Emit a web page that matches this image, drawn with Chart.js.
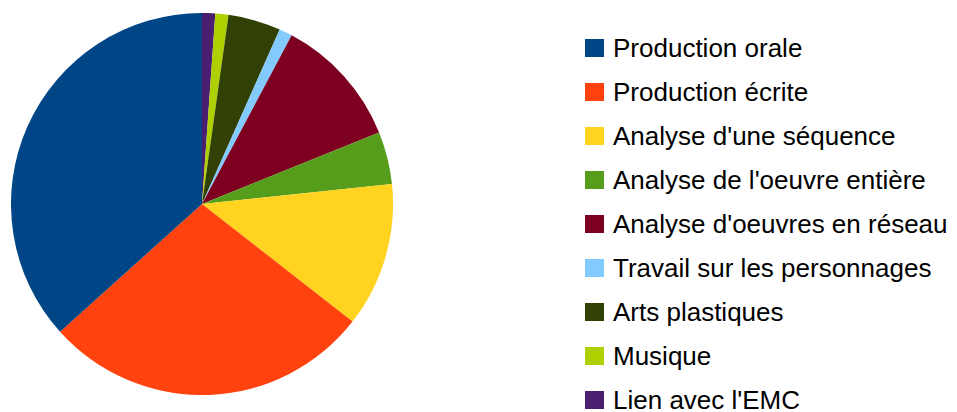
<!DOCTYPE html>
<html lang="fr">
<head>
<meta charset="utf-8">
<title>Répartition des activités</title>
<script src="https://cdn.jsdelivr.net/npm/chart.js@4/dist/chart.umd.min.js"></script>
<style>
    html, body {
        margin: 0;
        padding: 0;
        background: #ffffff;
        width: 957px;
        height: 412px;
        overflow: hidden;
        font-family: "Liberation Sans", Arial, sans-serif;
    }
    #pie-wrap {
        position: absolute;
        left: 11px;
        top: 13px;
        width: 382px;
        height: 382px;
    }
    #legend {
        position: absolute;
        left: 585px;
        top: 26px;
        margin: 0;
        padding: 0;
        list-style: none;
    }
    #legend li {
        display: flex;
        align-items: center;
        height: 44px;
        font-size: 26px;
        color: #000000;
        white-space: nowrap;
    }
    #legend .swatch {
        display: inline-block;
        width: 19px;
        height: 18px;
        margin-right: 9px;
        flex: none;
    }
</style>
</head>
<body>
<div id="pie-wrap"><canvas id="pieChart"></canvas></div>
<ul id="legend"></ul>
<script>
// categories, in legend order
const categories = [
    'Production orale',
    'Production écrite',
    "Analyse d'une séquence",
    "Analyse de l'oeuvre entière",
    "Analyse d'oeuvres en réseau",
    'Travail sur les personnages',
    'Arts plastiques',
    'Musique',
    "Lien avec l'EMC"
];

// number of occurrences per category
const counts = [33, 25, 11, 4, 10, 1, 4, 1, 1];

const sliceColors = [
    '#004586', '#ff420e', '#ffd320', '#579d1c', '#7e0021',
    '#83caff', '#314004', '#aecf00', '#4b1f6f'
];

const PieChart = {
    chart: null,

    init() {
        this.renderLegend();
        this.renderPie();
    },

    renderLegend() {
        const list = document.getElementById('legend');
        categories.forEach((cat, i) => {
            const row = document.createElement('li');
            row.innerHTML = `<span class="swatch" style="background-color: ${sliceColors[i]}"></span><span>${cat}</span>`;
            list.appendChild(row);
        });
    },

    renderPie() {
        const ctx = document.getElementById('pieChart');

        // the original is drawn counter-clockwise from 12 o'clock,
        // Chart.js goes clockwise, so feed the slices reversed
        const revLabels = categories.slice().reverse();
        const revCounts = counts.slice().reverse();
        const revColors = sliceColors.slice().reverse();

        this.chart = new Chart(ctx, {
            type: 'pie',
            data: {
                labels: revLabels,
                datasets: [{
                    data: revCounts,
                    backgroundColor: revColors,
                    borderWidth: 0
                }]
            },
            options: {
                responsive: true,
                maintainAspectRatio: false,
                animation: false,
                layout: { padding: 0 },
                plugins: {
                    legend: { display: false },
                    tooltip: { enabled: true }
                }
            }
        });
    }
};

document.addEventListener('DOMContentLoaded', () => {
    PieChart.init();
});
</script>
</body>
</html>
